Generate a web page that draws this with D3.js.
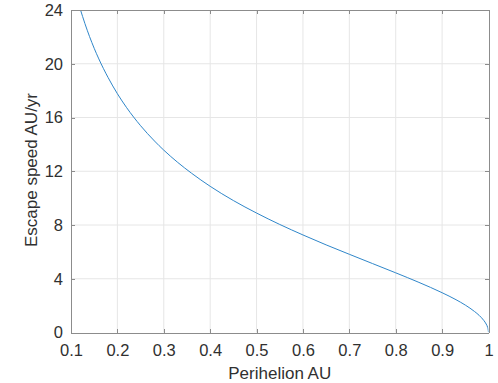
<!DOCTYPE html>
<html>
<head>
<meta charset="utf-8">
<title>Escape speed vs perihelion</title>
<style>
body {
  margin: 0;
  background: #fff;
  font-family: "Liberation Sans", Arial, sans-serif;
}

.grid line {
  stroke: #e6e6e6;
  stroke-width: 1px;
}

.axis path, .axis line {
  stroke: #8c8c8c;
  shape-rendering: crispEdges;
}

.axis text {
  fill: #303030;
  font-size: 16.5px;
}

.label {
  fill: #303030;
  font-size: 17px;
}

path.curve {
  fill: none;
  stroke: #2f86c9;
  stroke-width: 1px;
}
</style>
<script src="https://d3js.org/d3.v7.min.js"></script>
</head>
<body>
<script>
const width = 498,
  height = 383,
  margin = {top: 10, right: 9.5, bottom: 50.5, left: 71};

// perihelion (AU) and escape speed (AU/yr)
const perihelion = [0.12, 0.13, 0.14, 0.15, 0.16, 0.18, 0.2, 0.22, 0.25, 0.28, 0.3, 0.33,
  0.36, 0.4, 0.45, 0.5, 0.55, 0.6, 0.65, 0.7, 0.75, 0.8, 0.85, 0.9, 0.93, 0.95, 0.97,
  0.98, 0.99, 0.995, 0.998, 0.999, 1];
const escapeSpeed = [24.06, 22.99, 22.02, 21.15, 20.36, 18.97, 17.77, 16.73, 15.39, 14.25, 13.57, 12.66,
  11.85, 10.88, 9.82, 8.89, 8.04, 7.26, 6.52, 5.82, 5.13, 4.44, 3.73, 2.96, 2.44, 2.04, 1.56,
  1.27, 0.89, 0.63, 0.40, 0.28, 0];

const xTicks = [0.1, 0.2, 0.3, 0.4, 0.5, 0.6, 0.7, 0.8, 0.9, 1];
const yTicks = [0, 4, 8, 12, 16, 20, 24];

const w = width - margin.left - margin.right,
  h = height - margin.top - margin.bottom;

const x = d3.scaleLinear().domain([0.1, 1]).range([0, w]);
const y = d3.scaleLinear().domain([0, 24]).range([h, 0]);

const svg = d3.select('body').append('svg')
  .attr('width', width)
  .attr('height', height);

const g = svg.append('g')
  .attr('transform', 'translate(' + margin.left + ',' + margin.top + ')');

svg.append('defs').append('clipPath')
  .attr('id', 'clip')
  .append('rect')
    .attr('width', w)
    .attr('height', h);

// grid
const grid = g.append('g').attr('class', 'grid');
grid.selectAll('.gx')
  .data(xTicks.slice(1, -1))
  .enter().append('line')
    .attr('x1', d => x(d)).attr('x2', d => x(d))
    .attr('y1', 0).attr('y2', h);
grid.selectAll('.gy')
  .data(yTicks.slice(1, -1))
  .enter().append('line')
    .attr('x1', 0).attr('x2', w)
    .attr('y1', d => y(d)).attr('y2', d => y(d));

// curve
const data = perihelion.map((p, i) => [p, escapeSpeed[i]]);
const line = d3.line()
  .x(d => x(d[0]))
  .y(d => y(d[1]))
  .curve(d3.curveMonotoneX);

g.append('path')
  .datum(data)
  .attr('class', 'curve')
  .attr('clip-path', 'url(#clip)')
  .attr('d', line);

// axes, ticks pointing inward like matlab
const tickLen = 4;
g.append('g')
  .attr('class', 'axis')
  .attr('transform', 'translate(0,' + h + ')')
  .call(d3.axisBottom(x).tickValues(xTicks).tickFormat(d3.format('~g'))
    .tickSizeInner(-tickLen).tickSizeOuter(0).tickPadding(12));

g.append('g')
  .attr('class', 'axis')
  .call(d3.axisLeft(y).tickValues(yTicks).tickFormat(d3.format('d'))
    .tickSizeInner(-tickLen).tickSizeOuter(0).tickPadding(8));

g.append('g')
  .attr('class', 'axis')
  .call(d3.axisTop(x).tickValues(xTicks).tickFormat('')
    .tickSizeInner(-tickLen).tickSizeOuter(0));

g.append('g')
  .attr('class', 'axis')
  .attr('transform', 'translate(' + w + ',0)')
  .call(d3.axisRight(y).tickValues(yTicks).tickFormat('')
    .tickSizeInner(-tickLen).tickSizeOuter(0));

// labels
g.append('text')
  .attr('class', 'label')
  .attr('x', w / 2)
  .attr('y', h + 46)
  .attr('text-anchor', 'middle')
  .text('Perihelion AU');

g.append('text')
  .attr('class', 'label')
  .attr('transform', 'translate(' + (37 - margin.left) + ',' + (170 - margin.top) + ') rotate(-90)')
  .attr('text-anchor', 'middle')
  .text('Escape speed AU/yr');
</script>
</body>
</html>
